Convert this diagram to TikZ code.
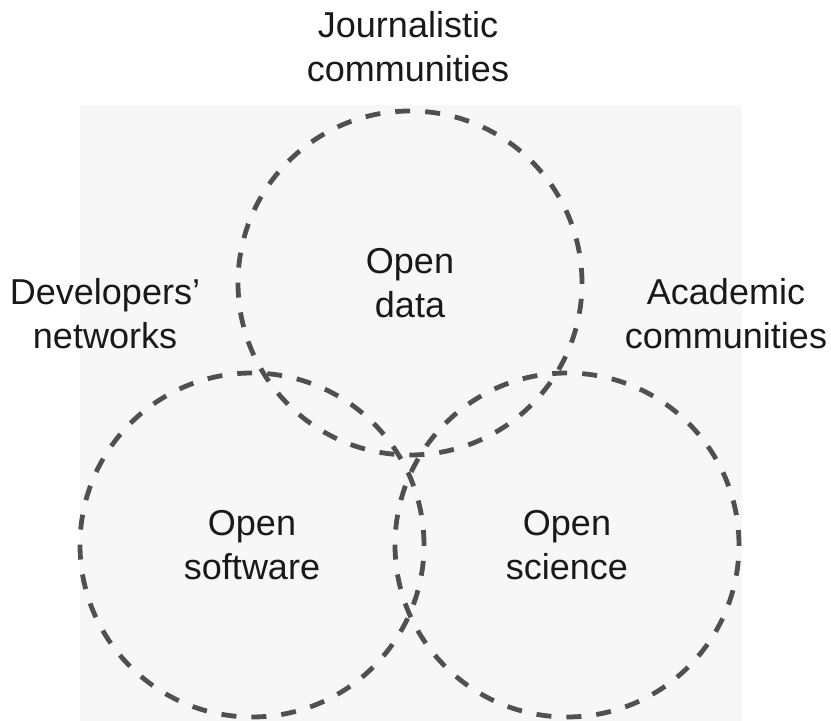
\documentclass[tikz,border=0pt]{standalone}
\usepackage{fontspec}
\setmainfont{Liberation Sans}
\usetikzlibrary{positioning}
\usepackage{xcolor}
\definecolor{backgray}{HTML}{F7F7F7}
\definecolor{dashgray}{HTML}{505050}

\begin{document}
\begin{tikzpicture}[
  x=0.5pt, y=-0.5pt,
  every node/.style={align=center, text=black!90, font=\fontsize{18}{22}\selectfont},
  venn/.style={circle, draw=dashgray, line width=2.4pt, dash pattern=on 7.5pt off 7.5pt, minimum size=172pt, inner sep=0pt},
]
  % Canvas + backdrop
  \useasboundingbox (0,0) rectangle (831,721);
  \fill[backgray] (80,105) rectangle (742,721);

  % Three open circles
  \node[venn] (data) at (410,283) {Open\\data};
  \node[venn] (soft) at (252,545) {Open\\software};
  \node[venn] (sci) at (567,545) {Open\\science};

  % Communities round them
  \node (journ) at (408,47) {Journalistic\\communities};
  \node (devs) at (105,314) {Developers’\\networks};
  \node (acad) at (726,314) {Academic\\communities};
\end{tikzpicture}
\end{document}
